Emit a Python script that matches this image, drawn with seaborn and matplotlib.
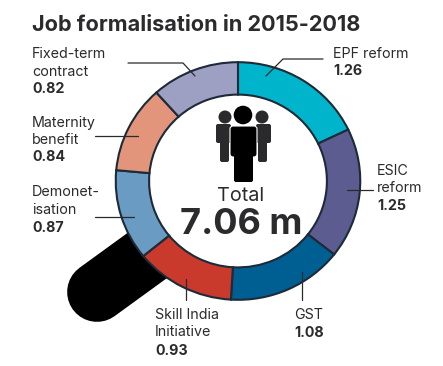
import matplotlib
matplotlib.use("Agg")
import matplotlib.pyplot as plt
from matplotlib.patches import Circle, FancyBboxPatch
import seaborn as sns

sns.set_theme(style="white")
plt.rcParams['font.family'] = ['Inter', 'DejaVu Sans']

# Data
categories = ["EPF reform", "ESIC\nreform", "GST", "Skill India\nInitiative",
              "Demonet-\nisation", "Maternity\nbenefit", "Fixed-term\ncontract"]
values = [1.26, 1.25, 1.08, 0.93, 0.87, 0.84, 0.82]
value_labels = ["1.26", "1.25", "1.08", "0.93", "0.87", "0.84", "0.82"]
colors = ["#00B5CB", "#5C5C91", "#005F92", "#C9392C", "#6A9BC3", "#E2957A", "#9D9FC3"]
title = "Job formalisation in 2015-2018"
total_word = "Total"
total_value = "7.06 m"

W, H = 443, 366
INK = "#2b2a2c"
fig = plt.figure(figsize=(W / 100, H / 100), dpi=100, facecolor="white")

# overlay in pixel space
ov = fig.add_axes([0, 0, 1, 1], zorder=1)
ov.set_xlim(0, W)
ov.set_ylim(H, 0)
ov.axis("off")

# magnifier handle
ov.plot([97, 170], [292, 239], color="black", lw=43, solid_capstyle="round", zorder=1)

# ring
cx, cy, rx, ry = 238, 181, 123.5, 120
ax = fig.add_axes([(cx - rx) / W, 1 - (cy + ry) / H, 2 * rx / W, 2 * ry / H], zorder=2)
ax.patch.set_alpha(0)
ring_w = 0.27
ax.pie(values, colors=colors, startangle=90, counterclock=False, radius=0.99,
       wedgeprops=dict(width=ring_w, edgecolor="#1d2a38", linewidth=1.5))
ax.add_patch(Circle((0, 0), 0.99 - ring_w, color="white", zorder=0))
ax.set_xlim(-1, 1)
ax.set_ylim(-1, 1)
ax.set_aspect("auto")

# overlay above ring
top = fig.add_axes([0, 0, 1, 1], zorder=3)
top.set_xlim(0, W)
top.set_ylim(H, 0)
top.axis("off")

# leaders
leaders = [
    [(323, 59), (283, 59), (266, 76)],
    [(373, 190), (347, 190)],
    [(302, 300), (302, 272)],
    [(186, 300), (186, 279)],
    [(95, 217), (134, 217)],
    [(95, 136), (138, 136)],
    [(128, 63), (183, 63), (195, 76)],
]
for pts in leaders:
    top.plot([p[0] for p in pts], [p[1] for p in pts], color="#2a2a2a", lw=0.9)

# labels (baseline of first line, line step)
name_pos = [(333, 58), (377, 175), (294, 319), (155, 319), (32, 196), (32, 127), (32, 58)]
value_base = [75, 210, 337, 355, 232, 161, 93]
for name, val, np_, vb in zip(categories, value_labels, name_pos, value_base):
    for i, line in enumerate(name.split("\n")):
        top.text(np_[0], np_[1] + 17.5 * i, line, fontsize=10.3, color=INK, ha="left", va="baseline")
    top.text(np_[0], vb, val, fontsize=10.3, color=INK, fontweight="bold", ha="left", va="baseline")

top.text(32, 31, title, fontsize=15.6, fontweight="bold", color=INK, ha="left", va="baseline")
top.text(241, 201, total_word, fontsize=14.2, color=INK, ha="center", va="baseline")
top.text(241, 234, total_value, fontsize=26, fontweight="bold", color=INK, ha="center", va="baseline")

# people icon
dark = "#2a2a2c"
for hx in (225, 262):
    top.add_patch(Circle((hx, 117), 6.5, color=dark, lw=0))
top.add_patch(FancyBboxPatch((216, 124), 15, 19, boxstyle="round,pad=0,rounding_size=2", fc=dark, lw=0))
top.add_patch(FancyBboxPatch((220, 130), 9, 32, boxstyle="round,pad=0,rounding_size=2", fc=dark, lw=0))
top.add_patch(FancyBboxPatch((256, 124), 15, 19, boxstyle="round,pad=0,rounding_size=2", fc=dark, lw=0))
top.add_patch(FancyBboxPatch((258, 130), 9, 32, boxstyle="round,pad=0,rounding_size=2", fc=dark, lw=0))
top.add_patch(Circle((243, 115), 9.3, color="black", lw=0))
top.add_patch(FancyBboxPatch((230, 126), 27, 31, boxstyle="round,pad=0,rounding_size=3", fc="black", ec="white", lw=0.8))
top.add_patch(FancyBboxPatch((234, 150), 19, 32, boxstyle="round,pad=0,rounding_size=2", fc="black", lw=0))

fig.savefig("out.png", dpi=100, facecolor="white")
